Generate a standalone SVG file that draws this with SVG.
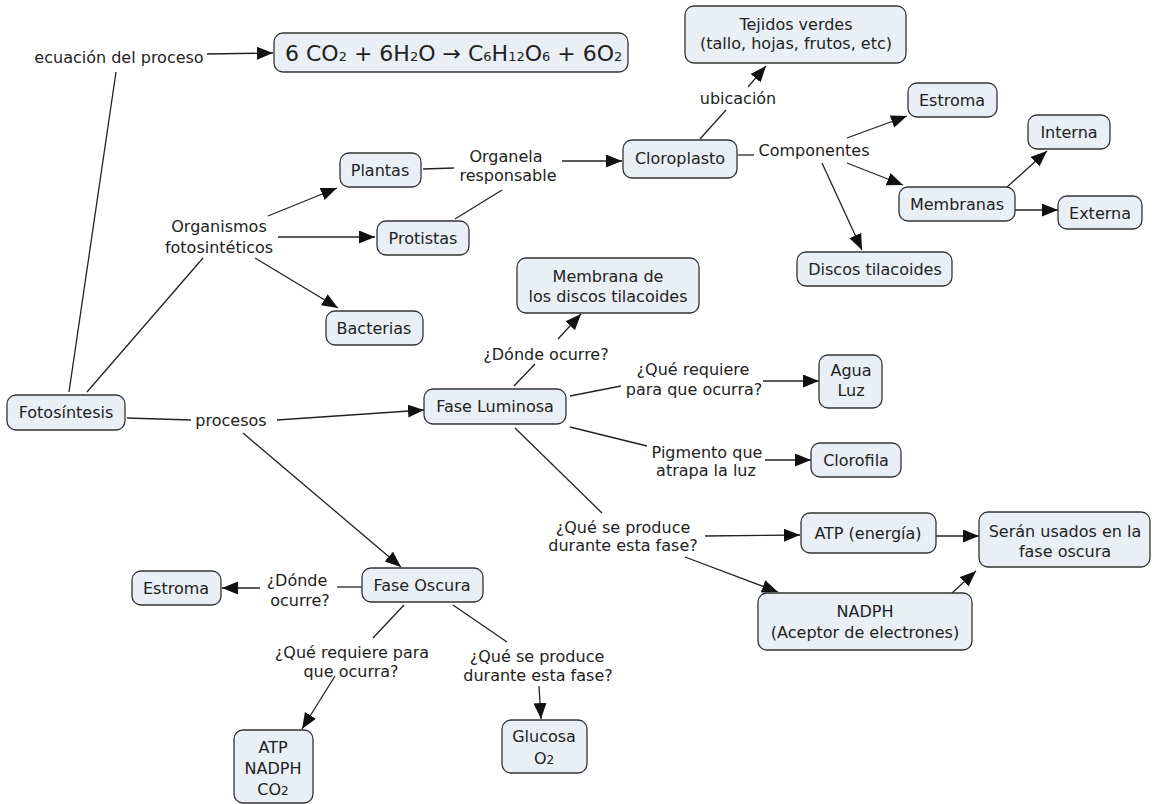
<svg xmlns="http://www.w3.org/2000/svg" width="1156" height="804" viewBox="0 0 1156 804">
  <style>
    .box { fill: #e9eff5; stroke: #333; stroke-width: 1.3; }
    text { font-family: "DejaVu Sans", Verdana, sans-serif; font-size: 16px; fill: #222; text-anchor: middle; }
    .eq { font-size: 22px; text-anchor: start; }
    .sub { font-size: 13px; }
    .sub2 { font-size: 12px; }
    #connectors line { stroke: #222; stroke-width: 1.3; fill: none; }
    #connectors line.arr { marker-end: url(#head); }
  </style>
  <defs>
    <marker id="head" markerUnits="userSpaceOnUse" markerWidth="16" markerHeight="14" refX="16" refY="6.5" orient="auto">
      <path d="M0,0 L16,6.5 L0,13 z" fill="#111"/>
    </marker>
  </defs>
  <rect width="1156" height="804" fill="#fff"/>

  <!-- connectors -->
  <g id="connectors">
    <line class="arr" x1="207" y1="54" x2="273" y2="53"/>
    <line x1="69" y1="392" x2="116" y2="72"/>
    <line x1="87" y1="392" x2="203" y2="258"/>
    <line class="arr" x1="268" y1="216" x2="337" y2="188"/>
    <line class="arr" x1="278" y1="237" x2="375" y2="237"/>
    <line class="arr" x1="255" y1="258" x2="338" y2="308"/>
    <line x1="423" y1="169" x2="454" y2="168"/>
    <line x1="455" y1="219" x2="502" y2="190"/>
    <line class="arr" x1="562" y1="161" x2="622" y2="161"/>
    <line x1="700" y1="139" x2="726" y2="110"/>
    <line class="arr" x1="748" y1="87" x2="766" y2="66"/>
    <line x1="738" y1="155" x2="754" y2="155"/>
    <line class="arr" x1="847" y1="138" x2="907" y2="116"/>
    <line class="arr" x1="847" y1="163" x2="903" y2="185"/>
    <line class="arr" x1="822" y1="163" x2="862" y2="250"/>
    <line class="arr" x1="1007" y1="187" x2="1047" y2="151"/>
    <line class="arr" x1="1015" y1="210" x2="1058" y2="210"/>
    <line x1="127" y1="418" x2="191" y2="420"/>
    <line class="arr" x1="277" y1="420" x2="424" y2="410"/>
    <line class="arr" x1="243" y1="433" x2="401" y2="567"/>
    <line x1="514" y1="386" x2="535" y2="364"/>
    <line class="arr" x1="558" y1="339" x2="581" y2="314"/>
    <line x1="570" y1="396" x2="621" y2="386"/>
    <line class="arr" x1="763" y1="381" x2="819" y2="381"/>
    <line x1="570" y1="427" x2="647" y2="446"/>
    <line class="arr" x1="765" y1="460" x2="811" y2="460"/>
    <line x1="515" y1="428" x2="602" y2="513"/>
    <line class="arr" x1="705" y1="536" x2="800" y2="535"/>
    <line class="arr" x1="685" y1="557" x2="778" y2="592"/>
    <line class="arr" x1="936" y1="536" x2="979" y2="536"/>
    <line class="arr" x1="952" y1="593" x2="976" y2="571"/>
    <line x1="362" y1="587" x2="337" y2="587"/>
    <line class="arr" x1="260" y1="588" x2="222" y2="588"/>
    <line x1="404" y1="605" x2="373" y2="638"/>
    <line class="arr" x1="335" y1="676" x2="302" y2="729"/>
    <line x1="453" y1="605" x2="507" y2="642"/>
    <line class="arr" x1="539" y1="686" x2="541" y2="719"/>
  </g>

  <!-- link labels -->
  <g id="label-ecuacion"><text x="119" y="63">ecuación del proceso</text></g>
  <g id="label-organismos"><text x="219" y="232">Organismos</text><text x="219" y="253">fotosintéticos</text></g>
  <g id="label-organela"><text x="506" y="162">Organela</text><text x="508" y="181">responsable</text></g>
  <g id="label-ubicacion"><text x="738" y="104">ubicación</text></g>
  <g id="label-componentes"><text x="814" y="156">Componentes</text></g>
  <g id="label-procesos"><text x="231" y="426">procesos</text></g>
  <g id="label-donde-fl"><text x="546" y="360">¿Dónde ocurre?</text></g>
  <g id="label-requiere-fl"><text x="693" y="375">¿Qué requiere</text><text x="694" y="395">para que ocurra?</text></g>
  <g id="label-pigmento"><text x="707" y="458">Pigmento que</text><text x="706" y="476">atrapa la luz</text></g>
  <g id="label-produce-fl"><text x="623" y="533">¿Qué se produce</text><text x="623" y="551">durante esta fase?</text></g>
  <g id="label-donde-fo"><text x="297" y="586">¿Dónde</text><text x="300" y="606">ocurre?</text></g>
  <g id="label-requiere-fo"><text x="352" y="658">¿Qué requiere para</text><text x="351" y="677">que ocurra?</text></g>
  <g id="label-produce-fo"><text x="537" y="662">¿Qué se produce</text><text x="538" y="681">durante esta fase?</text></g>

  <!-- nodes -->
  <g id="node-ecuacion">
    <rect class="box" x="274" y="33" width="354" height="39" rx="9"/>
    <text class="eq" x="285" y="61">6 CO<tspan class="sub">2</tspan> + 6H<tspan class="sub">2</tspan>O → C<tspan class="sub">6</tspan>H<tspan class="sub">12</tspan>O<tspan class="sub">6</tspan> + 6O<tspan class="sub">2</tspan></text>
  </g>
  <g id="node-fotosintesis">
    <rect class="box" x="7" y="395" width="118" height="35" rx="9"/>
    <text x="66" y="418">Fotosíntesis</text>
  </g>
  <g id="node-plantas">
    <rect class="box" x="340" y="153" width="81" height="34" rx="9"/>
    <text x="380" y="176">Plantas</text>
  </g>
  <g id="node-protistas">
    <rect class="box" x="377" y="221" width="92" height="34" rx="9"/>
    <text x="423" y="244">Protistas</text>
  </g>
  <g id="node-bacterias">
    <rect class="box" x="326" y="311" width="97" height="34" rx="9"/>
    <text x="374" y="334">Bacterias</text>
  </g>
  <g id="node-cloroplasto">
    <rect class="box" x="623" y="140" width="114" height="38" rx="9"/>
    <text x="680" y="164">Cloroplasto</text>
  </g>
  <g id="node-tejidos">
    <rect class="box" x="685" y="6" width="221" height="57" rx="9"/>
    <text x="796" y="30">Tejidos verdes</text>
    <text x="796" y="49">(tallo, hojas, frutos, etc)</text>
  </g>
  <g id="node-estroma-cl">
    <rect class="box" x="908" y="83" width="89" height="34" rx="9"/>
    <text x="952" y="106">Estroma</text>
  </g>
  <g id="node-interna">
    <rect class="box" x="1028" y="115" width="82" height="34" rx="9"/>
    <text x="1069" y="138">Interna</text>
  </g>
  <g id="node-membranas">
    <rect class="box" x="899" y="187" width="116" height="34" rx="9"/>
    <text x="957" y="210">Membranas</text>
  </g>
  <g id="node-externa">
    <rect class="box" x="1058" y="196" width="84" height="33" rx="9"/>
    <text x="1100" y="219">Externa</text>
  </g>
  <g id="node-discos">
    <rect class="box" x="797" y="252" width="155" height="34" rx="9"/>
    <text x="875" y="275">Discos tilacoides</text>
  </g>
  <g id="node-fase-luminosa">
    <rect class="box" x="424" y="389" width="142" height="35" rx="9"/>
    <text x="495" y="412">Fase Luminosa</text>
  </g>
  <g id="node-membrana-discos">
    <rect class="box" x="517" y="258" width="182" height="55" rx="9"/>
    <text x="608" y="282">Membrana de</text>
    <text x="608" y="302">los discos tilacoides</text>
  </g>
  <g id="node-agua-luz">
    <rect class="box" x="819" y="355" width="63" height="53" rx="9"/>
    <text x="851" y="376">Agua</text>
    <text x="851" y="396">Luz</text>
  </g>
  <g id="node-clorofila">
    <rect class="box" x="811" y="443" width="90" height="34" rx="9"/>
    <text x="856" y="466">Clorofila</text>
  </g>
  <g id="node-atp">
    <rect class="box" x="801" y="513" width="135" height="40" rx="9"/>
    <text x="868" y="539">ATP (energía)</text>
  </g>
  <g id="node-seran">
    <rect class="box" x="979" y="512" width="171" height="55" rx="9"/>
    <text x="1065" y="537">Serán usados en la</text>
    <text x="1065" y="557">fase oscura</text>
  </g>
  <g id="node-nadph">
    <rect class="box" x="758" y="593" width="214" height="57" rx="9"/>
    <text x="865" y="617">NADPH</text>
    <text x="865" y="638">(Aceptor de electrones)</text>
  </g>
  <g id="node-fase-oscura">
    <rect class="box" x="362" y="568" width="121" height="34" rx="9"/>
    <text x="422" y="591">Fase Oscura</text>
  </g>
  <g id="node-estroma-fo">
    <rect class="box" x="132" y="571" width="89" height="34" rx="9"/>
    <text x="176" y="594">Estroma</text>
  </g>
  <g id="node-requisitos">
    <rect class="box" x="234" y="730" width="79" height="73" rx="9"/>
    <text x="273" y="753">ATP</text>
    <text x="273" y="774">NADPH</text>
    <text x="273" y="795">CO<tspan class="sub2">2</tspan></text>
  </g>
  <g id="node-glucosa">
    <rect class="box" x="502" y="720" width="85" height="53" rx="9"/>
    <text x="544" y="742">Glucosa</text>
    <text x="544" y="764">O<tspan class="sub2">2</tspan></text>
  </g>
</svg>
